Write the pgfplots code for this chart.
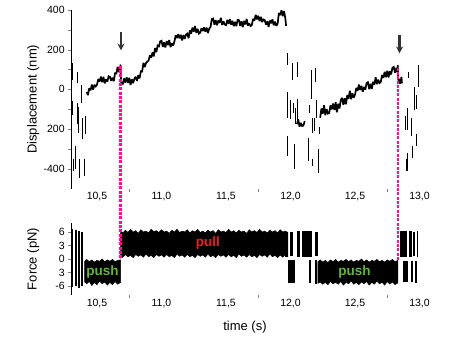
\documentclass[border=0pt]{standalone}
\usepackage{pgfplots}
\pgfplotsset{compat=1.18}
\usepackage{fontspec}
\setmainfont{Liberation Sans}
\usetikzlibrary{arrows.meta}
\definecolor{pinkc}{RGB}{240,20,150}
\definecolor{pullred}{RGB}{235,30,40}
\definecolor{pushgreen}{RGB}{100,180,60}
\definecolor{arrowgray}{RGB}{50,50,50}
\pgfplotsset{
  myax/.style={
    scale only axis, width=361.2pt,
    xmin=10.3, xmax=13.1,
    axis x line*=bottom, axis y line*=left,
    x axis line style={draw=none},
    y axis line style={line width=0.8pt},
    tick align=outside, major tick length=3pt, minor tick length=3pt,
    xtick={10.75,11.75,12.75}, xticklabels={},
    extra x ticks={10.5,11,11.5,12,12.5,13},
    extra x tick labels={{10,5},{11,0},{11,5},{12,0},{12,5},{13,0}},
    extra x tick style={major tick length=0pt},
    tick label style={font=\fontsize{10.5}{12}\selectfont},
    every axis y label/.style={at={(axis description cs:-0.105,0.5)}, rotate=90, anchor=center, font=\fontsize{13}{15}\selectfont},
    clip=false,
  }
}
\begin{document}
\begin{tikzpicture}
\useasboundingbox (0pt,0pt) rectangle (465pt,356pt);
% ---------------- top: displacement ----------------
\begin{axis}[myax, at={(71.2pt,167.4pt)}, anchor=south west, height=178.6pt,
  ymin=-500, ymax=400,
  ytick={-400,-200,0,200,400}, yticklabels={-400,200,0,200,400},
  minor ytick={-300,-100,100,300},
  xticklabel style={anchor=center, yshift=-8pt},
  ylabel={Displacement (nm)}]
\addplot[black, line width=1.7pt, line join=miter, miter limit=2] coordinates {
(10.42,-13) (10.43,-29) (10.44,6) (10.45,-5) (10.46,24) (10.47,-1) (10.48,23) (10.49,15)
(10.50,24) (10.51,52) (10.52,39) (10.53,64) (10.54,36) (10.55,63) (10.56,30) (10.57,51) (10.58,39) (10.59,66)
(10.60,63) (10.61,43) (10.62,59) (10.63,41) (10.64,81) (10.65,80) (10.66,114) (10.67,87) (10.68,111) (10.683,125) (10.686,40)
(10.69,30) (10.70,28) (10.71,55) (10.72,34) (10.73,61) (10.74,33) (10.75,58) (10.76,22) (10.77,51) (10.78,31) (10.79,54)
(10.80,63) (10.81,43) (10.82,72) (10.83,55) (10.84,91) (10.85,90) (10.86,134) (10.87,112) (10.88,133) (10.89,140)
(10.90,146) (10.91,172) (10.92,159) (10.93,186) (10.94,166) (10.95,208) (10.96,187) (10.97,221) (10.98,217) (10.99,242)
(11.00,245) (11.01,214) (11.02,237) (11.03,211) (11.04,243) (11.05,223) (11.06,249) (11.07,213) (11.08,233) (11.09,220)
(11.10,241) (11.11,272) (11.12,259) (11.13,278) (11.14,257) (11.15,275) (11.16,247) (11.17,274) (11.18,254) (11.19,276)
(11.20,281) (11.21,258) (11.22,297) (11.23,281) (11.24,311) (11.25,291) (11.26,319) (11.27,285) (11.28,305) (11.29,281)
(11.30,286) (11.31,308) (11.32,294) (11.33,312) (11.34,291) (11.35,311) (11.36,284) (11.37,306) (11.38,314) (11.39,354)
(11.40,357) (11.41,326) (11.42,349) (11.43,323) (11.44,347) (11.45,335) (11.46,361) (11.47,325) (11.48,343) (11.49,327)
(11.50,324) (11.51,350) (11.52,330) (11.53,354) (11.54,326) (11.55,345) (11.56,318) (11.57,340) (11.58,319) (11.59,350)
(11.60,349) (11.61,320) (11.62,343) (11.63,313) (11.64,345) (11.65,327) (11.66,355) (11.67,321) (11.68,333) (11.69,319)
(11.70,324) (11.71,355) (11.72,346) (11.73,376) (11.74,353) (11.75,371) (11.76,344) (11.77,366) (11.78,339) (11.79,352)
(11.80,349) (11.81,326) (11.82,343) (11.83,315) (11.84,347) (11.85,333) (11.86,353) (11.87,323) (11.88,341) (11.89,320)
(11.90,331) (11.91,385) (11.92,374) (11.93,398) (11.94,369) (11.95,395) (11.96,357) (11.966,320)
};
\addplot[black, line width=1.7pt, line join=miter, miter limit=2] coordinates {
(12.05,-175) (12.06,-151) (12.07,-188) (12.08,-169) (12.09,-185) (12.10,-182) (12.11,-160)
};
\addplot[black, line width=1.7pt, line join=miter, miter limit=2] coordinates {
(12.23,-143) (12.24,-96) (12.25,-123) (12.26,-80) (12.27,-130) (12.28,-99) (12.29,-122)
(12.30,-119) (12.31,-80) (12.32,-101) (12.33,-71) (12.34,-104) (12.35,-65) (12.36,-115) (12.37,-73) (12.38,-96) (12.39,-54)
(12.40,-43) (12.41,-78) (12.42,-45) (12.43,-75) (12.44,-29) (12.45,-48) (12.46,-7) (12.47,-50) (12.48,-20) (12.49,-42)
(12.50,-27) (12.51,7) (12.52,-7) (12.53,24) (12.54,-3) (12.55,18) (12.56,-12) (12.57,12) (12.58,-1) (12.59,32)
(12.60,36) (12.61,1) (12.62,28) (12.63,2) (12.64,38) (12.65,24) (12.66,61) (12.67,26) (12.68,49) (12.69,32)
(12.70,38) (12.71,72) (12.72,58) (12.73,89) (12.74,61) (12.75,94) (12.76,60) (12.77,92) (12.78,75) (12.79,109)
(12.80,113) (12.81,84) (12.82,108) (12.83,85) (12.832,122) (12.835,45) (12.84,53) (12.85,29) (12.86,63) (12.864,30)
};
\addplot[black, line width=0.9pt, unbounded coords=jump] coordinates {
(10.306,132) (10.306,46) (10.306,nan)
(10.345,86) (10.345,30) (10.345,nan)
(10.303,-56) (10.303,-142) (10.303,nan)
(10.310,-60) (10.310,-130) (10.310,nan)
(10.347,-71) (10.347,-172) (10.347,nan)
(10.36,-91) (10.36,-218) (10.36,nan)
(10.376,20) (10.376,-71) (10.376,nan)
(10.384,-142) (10.384,-223) (10.384,nan)
(10.39,-182) (10.39,-248) (10.39,nan)
(10.407,-132) (10.407,-223) (10.407,nan)
(10.33,-283) (10.33,-400) (10.33,nan)
(10.32,-349) (10.32,-410) (10.32,nan)
(10.362,-349) (10.362,-445) (10.362,nan)
(10.40,-349) (10.40,-435) (10.40,nan)
(11.973,182) (11.973,121) (11.973,nan)
(12.012,132) (12.012,46) (12.012,nan)
(12.05,137) (12.05,61) (12.05,nan)
(11.976,-15) (11.976,-142) (11.976,nan)
(11.996,-56) (11.996,-147) (11.996,nan)
(12.019,-71) (12.019,-121) (12.019,nan)
(12.035,-96) (12.035,-172) (12.035,nan)
(12.052,-46) (12.052,-162) (12.052,nan)
(11.98,-233) (11.98,-334) (11.98,nan)
(12.027,-273) (12.027,-400) (12.027,nan)
(12.136,-243) (12.136,-359) (12.136,nan)
(12.143,-81) (12.143,-121) (12.143,nan)
(12.159,96) (12.159,-46) (12.159,nan)
(12.174,-142) (12.174,-218) (12.174,nan)
(12.182,-142) (12.182,-208) (12.182,nan)
(12.19,106) (12.19,35) (12.19,nan)
(12.198,-56) (12.198,-142) (12.198,nan)
(12.172,-349) (12.172,-385) (12.172,nan)
(12.215,-298) (12.215,-420) (12.215,nan)
(12.221,-192) (12.221,-223) (12.221,nan)
(12.911,86) (12.911,56) (12.911,nan)
(12.957,10) (12.957,-106) (12.957,nan)
(12.988,121) (12.988,10) (12.988,nan)
(12.973,-30) (12.973,-100) (12.973,nan)
(12.905,-96) (12.905,-207) (12.905,nan)
(12.934,-142) (12.934,-233) (12.934,nan)
(12.888,-132) (12.888,-207) (12.888,nan)
(12.942,-283) (12.942,-344) (12.942,nan)
(12.903,-319) (12.903,-410) (12.903,nan)
(12.975,-223) (12.975,-283) (12.975,nan)
(12.895,-349) (12.895,-410)
};
\draw[-{Stealth[length=7pt,width=7pt]}, line width=2.2pt, arrowgray] (axis cs:10.686,290) -- (axis cs:10.686,196);
\draw[-{Stealth[length=7pt,width=7pt]}, line width=2.2pt, arrowgray] (axis cs:12.845,275) -- (axis cs:12.845,181);
\end{axis}
% ---------------- bottom: force ----------------
\begin{axis}[myax, at={(71.2pt,61pt)}, anchor=south west, height=72pt,
  ymin=-8, ymax=8,
  ytick={-6,-3,0,3,6}, yticklabels={-6,3,0,3,6},
  xticklabel style={anchor=center, yshift=-9pt},
  ylabel={Force (pN)},
  xlabel={time (s)},
  every axis x label/.style={at={(axis description cs:0.481,-0.444)}, anchor=center, font=\fontsize{13}{15}\selectfont}]
% push 1
\addplot[fill=black, draw=black, line width=0.5pt] coordinates {
(10.405,-0.5) (10.42,-0.1) (10.44,-0.6) (10.46,-0.2) (10.48,-0.7) (10.50,-0.3) (10.52,-0.5) (10.54,0.0) (10.56,-0.6) (10.58,-0.2) (10.60,-0.5) (10.62,-0.1) (10.64,-0.6) (10.66,-0.3) (10.683,-0.2)
(10.683,-5.2) (10.66,-5.6) (10.64,-5.0) (10.62,-5.7) (10.60,-5.2) (10.58,-5.8) (10.56,-5.1) (10.54,-5.5) (10.52,-4.9) (10.50,-5.7) (10.48,-5.2) (10.46,-5.9) (10.44,-5.0) (10.42,-5.5) (10.405,-5.1)
} -- cycle;
% pull
\addplot[fill=black, draw=black, line width=0.5pt] coordinates {
(10.683,6.2) (10.70,5.8) (10.72,6.4) (10.74,5.9) (10.76,6.6) (10.78,6.0) (10.80,6.3) (10.82,5.7) (10.84,6.5) (10.86,6.0)
(10.88,6.2) (10.90,5.8) (10.92,6.6) (10.94,6.1) (10.96,6.3) (10.98,5.9) (11.00,6.5) (11.02,6.0) (11.04,6.2) (11.06,5.7)
(11.08,6.4) (11.10,6.0) (11.12,6.6) (11.14,5.9) (11.16,6.2) (11.18,6.0) (11.20,6.5) (11.22,5.8) (11.24,6.3) (11.26,6.0)
(11.28,6.6) (11.30,5.9) (11.32,6.2) (11.34,5.8) (11.36,6.4) (11.38,6.0) (11.40,6.3) (11.42,5.7) (11.44,6.5) (11.46,6.0)
(11.48,6.2) (11.50,5.9) (11.52,6.6) (11.54,6.0) (11.56,6.3) (11.58,5.8) (11.60,6.4) (11.62,6.0) (11.64,6.2) (11.66,5.7)
(11.68,6.5) (11.70,6.0) (11.72,6.3) (11.74,5.9) (11.76,6.6) (11.78,6.0) (11.80,6.2) (11.82,5.8) (11.84,6.4) (11.86,6.0)
(11.88,6.3) (11.90,5.8) (11.92,6.5) (11.94,6.0) (11.96,6.2) (11.98,5.9)
(11.98,0.6) (11.96,1.0) (11.94,0.4) (11.92,0.9) (11.90,0.3) (11.88,0.8) (11.86,0.5) (11.84,1.1) (11.82,0.4) (11.80,0.9)
(11.78,0.6) (11.76,1.0) (11.74,0.3) (11.72,0.8) (11.70,0.5) (11.68,1.0) (11.66,0.4) (11.64,0.9) (11.62,0.6) (11.60,1.1)
(11.58,0.3) (11.56,0.8) (11.54,0.5) (11.52,1.0) (11.50,0.4) (11.48,0.9) (11.46,0.6) (11.44,1.0) (11.42,0.3) (11.40,0.8)
(11.38,0.5) (11.36,1.1) (11.34,0.4) (11.32,0.9) (11.30,0.6) (11.28,1.0) (11.26,0.3) (11.24,0.8) (11.22,0.5) (11.20,1.0)
(11.18,0.4) (11.16,0.9) (11.14,0.6) (11.12,1.1) (11.10,0.3) (11.08,0.8) (11.06,0.5) (11.04,1.0) (11.02,0.4) (11.00,0.9)
(10.98,0.6) (10.96,1.0) (10.94,0.3) (10.92,0.8) (10.90,0.5) (10.88,1.1) (10.86,0.4) (10.84,0.9) (10.82,0.6) (10.80,1.0)
(10.78,0.3) (10.76,0.8) (10.74,0.5) (10.72,1.0) (10.70,0.4) (10.683,0.2)
} -- cycle;
% push 2
\addplot[fill=black, draw=black, line width=0.5pt] coordinates {
(12.213,-0.6) (12.23,-0.2) (12.25,-0.7) (12.27,-0.3) (12.29,-0.8) (12.31,-0.2) (12.33,-0.6) (12.35,-0.1) (12.37,-0.7) (12.39,-0.3)
(12.41,-0.5) (12.43,-0.1) (12.45,-0.6) (12.47,-0.2) (12.49,-0.7) (12.51,-0.3) (12.53,-0.5) (12.55,0.0) (12.57,-0.6) (12.59,-0.2)
(12.61,-0.7) (12.63,-0.3) (12.65,-0.5) (12.67,-0.1) (12.69,-0.6) (12.71,-0.3) (12.73,-0.7) (12.75,-0.2) (12.77,-0.5) (12.79,-0.1)
(12.81,-0.6) (12.833,-0.3)
(12.833,-5.3) (12.81,-5.7) (12.79,-5.1) (12.77,-5.6) (12.75,-5.0) (12.73,-5.8) (12.71,-5.2) (12.69,-5.5) (12.67,-4.9) (12.65,-5.6)
(12.63,-5.2) (12.61,-5.8) (12.59,-5.0) (12.57,-5.5) (12.55,-5.1) (12.53,-5.7) (12.51,-5.2) (12.49,-5.6) (12.47,-4.9) (12.45,-5.5)
(12.43,-5.2) (12.41,-5.8) (12.39,-5.0) (12.37,-5.6) (12.35,-5.2) (12.33,-5.5) (12.31,-5.0) (12.29,-5.7) (12.27,-5.2) (12.25,-5.6)
(12.23,-5.1) (12.213,-5.4)
} -- cycle;
% transitional bars
\addplot[black, line width=2.4pt, unbounded coords=jump] coordinates {
(10.307,-6.3) (10.307,6.6) (10.307,nan)
(12.008,0.6) (12.008,6.1) (12.008,nan)
(12.062,0.5) (12.062,6.3) (12.062,nan)
(12.202,0.6) (12.202,6.0) (12.202,nan)
(12.93,0.5) (12.93,6.2) (12.93,nan)
(12.151,-0.3) (12.151,-5.4) (12.151,nan)
(12.972,-0.4) (12.972,-5.3)
};
\addplot[black, line width=1.8pt, unbounded coords=jump] coordinates {
(10.337,-6.0) (10.337,6.4) (10.337,nan)
(10.36,-6.5) (10.36,6.2) (10.36,nan)
(10.385,-6.0) (10.385,6.0) (10.385,nan)
(12.198,-0.3) (12.198,-5.5) (12.198,nan)
(12.957,0.6) (12.957,6.1) (12.957,nan)
(12.985,0.5) (12.985,6.2) (12.985,nan)
(12.94,-0.5) (12.94,-5.2)
};
\addplot[black, line width=10pt] coordinates {(12.128,0.5) (12.128,6.2)};
\addplot[black, line width=6.5pt] coordinates {(12.008,-0.2) (12.008,-5.4)};
\addplot[black, line width=6.5pt] coordinates {(12.876,0.5) (12.876,6.3)};
\addplot[black, line width=5pt] coordinates {(12.892,-0.4) (12.892,-5.2)};
\addplot[black, line width=3pt] coordinates {(11.966,0.5) (11.966,6.1)};
% pink dashed lines
\addplot[pinkc, line width=2.7pt, dash pattern=on 3pt off 1.3pt] coordinates {(10.683,0.2) (10.683,43.1)};
\addplot[pinkc, line width=2.7pt, dash pattern=on 3pt off 1.3pt] coordinates {(12.833,-0.2) (12.833,42.4)};
% labels
\node[text=pullred, font=\bfseries\fontsize{13.5}{15}\selectfont] at (axis cs:11.36,3.6) {pull};
\node[text=pushgreen, font=\bfseries\fontsize{13.5}{15}\selectfont] at (axis cs:10.543,-2.8) {push};
\node[text=pushgreen, font=\bfseries\fontsize{13.5}{15}\selectfont] at (axis cs:12.496,-2.8) {push};
\end{axis}
\end{tikzpicture}
\end{document}
